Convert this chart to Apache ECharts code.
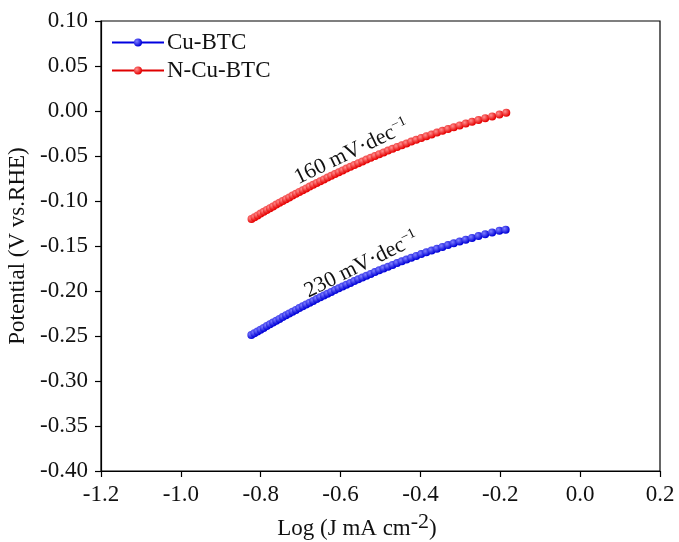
<!DOCTYPE html>
<html>
<head>
<meta charset="utf-8">
<script src="https://cdn.jsdelivr.net/npm/echarts@6/dist/echarts.min.js"></script>
<style>html,body{margin:0;padding:0;background:#fff}#c{width:679px;height:542px}</style>
</head>
<body>
<div id="c"></div>
<script>
// Log current density (x)
const logJ_N = [-0.8230,-0.8154,-0.8078,-0.8002,-0.7924,-0.7847,-0.7768,-0.7689,-0.7609,-0.7529,
  -0.7448,-0.7366,-0.7284,-0.7201,-0.7117,-0.7032,-0.6947,-0.6860,-0.6773,-0.6685,
  -0.6597,-0.6507,-0.6416,-0.6325,-0.6232,-0.6139,-0.6044,-0.5948,-0.5852,-0.5753,
  -0.5654,-0.5554,-0.5452,-0.5349,-0.5244,-0.5138,-0.5031,-0.4921,-0.4810,-0.4697,
  -0.4583,-0.4466,-0.4348,-0.4227,-0.4104,-0.3978,-0.3850,-0.3719,-0.3585,-0.3448,
  -0.3308,-0.3164,-0.3016,-0.2864,-0.2707,-0.2545,-0.2377,-0.2203,-0.2021,-0.1850];
const E_N = [-0.120,-0.118,-0.116,-0.114,-0.112,-0.110,-0.108,-0.106,-0.104,-0.102,
  -0.100,-0.098,-0.096,-0.094,-0.092,-0.090,-0.088,-0.086,-0.084,-0.082,
  -0.080,-0.078,-0.076,-0.074,-0.072,-0.070,-0.068,-0.066,-0.064,-0.062,
  -0.060,-0.058,-0.056,-0.054,-0.052,-0.050,-0.048,-0.046,-0.044,-0.042,
  -0.040,-0.038,-0.036,-0.034,-0.032,-0.030,-0.028,-0.026,-0.024,-0.022,
  -0.020,-0.018,-0.016,-0.014,-0.012,-0.010,-0.008,-0.006,-0.004,-0.002];
const logJ_Cu = [-0.8235,-0.8158,-0.8081,-0.8004,-0.7926,-0.7848,-0.7769,-0.7690,-0.7610,-0.7530,
  -0.7449,-0.7367,-0.7285,-0.7202,-0.7118,-0.7033,-0.6948,-0.6861,-0.6774,-0.6686,
  -0.6598,-0.6508,-0.6417,-0.6326,-0.6233,-0.6140,-0.6045,-0.5949,-0.5853,-0.5754,
  -0.5655,-0.5555,-0.5453,-0.5350,-0.5245,-0.5139,-0.5032,-0.4922,-0.4811,-0.4698,
  -0.4584,-0.4467,-0.4349,-0.4228,-0.4105,-0.3979,-0.3851,-0.3720,-0.3586,-0.3449,
  -0.3309,-0.3165,-0.3017,-0.2865,-0.2708,-0.2546,-0.2378,-0.2204,-0.2022,-0.1865];
const E_Cu = [-0.249,-0.247,-0.245,-0.243,-0.241,-0.239,-0.237,-0.235,-0.233,-0.231,
  -0.229,-0.227,-0.225,-0.223,-0.221,-0.219,-0.217,-0.215,-0.213,-0.211,
  -0.209,-0.207,-0.205,-0.203,-0.201,-0.199,-0.197,-0.195,-0.193,-0.191,
  -0.189,-0.187,-0.185,-0.183,-0.181,-0.179,-0.177,-0.175,-0.173,-0.171,
  -0.169,-0.167,-0.165,-0.163,-0.161,-0.159,-0.157,-0.155,-0.153,-0.151,
  -0.149,-0.147,-0.145,-0.143,-0.141,-0.139,-0.137,-0.135,-0.133,-0.132];
const seriesNames = ['Cu-BTC', 'N-Cu-BTC'];
const slopeLabels = ['230 mV\u00b7dec', '160 mV\u00b7dec'];
const xTicks = {min: -1.2, max: 0.2, interval: 0.2};
const yTicks = {min: -0.40, max: 0.10, interval: 0.05};

const FONT = 'Liberation Serif';
const chart = echarts.init(document.getElementById('c'), null, {renderer: 'canvas'});
const zip = (a, b) => a.map((v, i) => [v, b[i]]);
function ball(light, dark) {
  return new echarts.graphic.RadialGradient(0.35, 0.35, 0.65, [
    {offset: 0, color: light}, {offset: 1, color: dark}]);
}
const axisCommon = {
  axisLine: {show: true, onZero: false, lineStyle: {color: '#000', width: 1.2}},
  axisTick: {show: true, inside: false, length: 6, lineStyle: {color: '#000', width: 1.2}},
  splitLine: {show: false},
  axisLabel: {color: '#111', fontFamily: FONT, fontSize: 23},
  nameTextStyle: {color: '#111', fontFamily: FONT, fontSize: 23}
};
chart.setOption({
  animation: false,
  backgroundColor: '#fff',
  grid: {left: 101, right: 19, top: 21, bottom: 71, containLabel: false, outerBoundsMode: 'none',
         show: true, borderColor: '#000', borderWidth: 1.2, backgroundColor: 'transparent'},
  xAxis: Object.assign({}, axisCommon, {
    type: 'value', min: xTicks.min, max: xTicks.max, interval: xTicks.interval,
    name: '{a|Log (J mA cm}{b|-2}{a|)}', nameLocation: 'middle', nameGap: 32,
    nameTextStyle: {padding: [0, 47, 0, 0],
      rich: {a: {fontFamily: FONT, fontSize: 23, color: '#111', verticalAlign: 'bottom'},
             b: {fontFamily: FONT, fontSize: 22, color: '#111', verticalAlign: 'top', padding: [0,0,8,0]}}},
    axisLabel: Object.assign({}, axisCommon.axisLabel, {margin: 12, formatter: v => v.toFixed(1)})
  }),
  yAxis: Object.assign({}, axisCommon, {
    type: 'value', min: yTicks.min, max: yTicks.max, interval: yTicks.interval,
    name: 'Potential (V vs.RHE)', nameLocation: 'middle', nameGap: 70,
    axisLabel: Object.assign({}, axisCommon.axisLabel, {margin: 13, formatter: v => v.toFixed(2)})
  }),
  legend: {
    left: 111, top: 31, padding: 0, orient: 'vertical', itemGap: 5, itemWidth: 52, itemHeight: 10,
    textStyle: {fontFamily: FONT, fontSize: 23, color: '#111', padding: [0,0,0,-2]},
    data: seriesNames
  },
  series: [
    {name: seriesNames[0], type: 'line', data: zip(logJ_Cu, E_Cu), symbol: 'circle', symbolSize: 8,
     lineStyle: {color: '#0000e0', width: 1.5}, itemStyle: {color: ball('#8080ff', '#0000d8'), borderWidth: 0}},
    {name: seriesNames[1], type: 'line', data: zip(logJ_N, E_N), symbol: 'circle', symbolSize: 8,
     lineStyle: {color: '#e00000', width: 1.5}, itemStyle: {color: ball('#ff9090', '#e60000'), borderWidth: 0}}
  ]
});
// slope annotations placed at data coordinates
function annot(label, x, y, rot) {
  const p = chart.convertToPixel({gridIndex: 0}, [x, y]);
  return {type: 'text', x: p[0], y: p[1], rotation: rot,
    style: {text: '{a|' + label + '}{b|\u22121}', align: 'center', verticalAlign: 'middle',
      rich: {a: {fontFamily: FONT, fontSize: 22, fill: '#111', color: '#111'},
             b: {fontFamily: FONT, fontSize: 14, fill: '#111', color: '#111', verticalAlign: 'top', padding: [0,0,11,0]}}}};
}
chart.setOption({graphic: [annot(slopeLabels[0], -0.5475, -0.171, 0.46), annot(slopeLabels[1], -0.5725, -0.0456, 0.45)]});
</script>
</body>
</html>
